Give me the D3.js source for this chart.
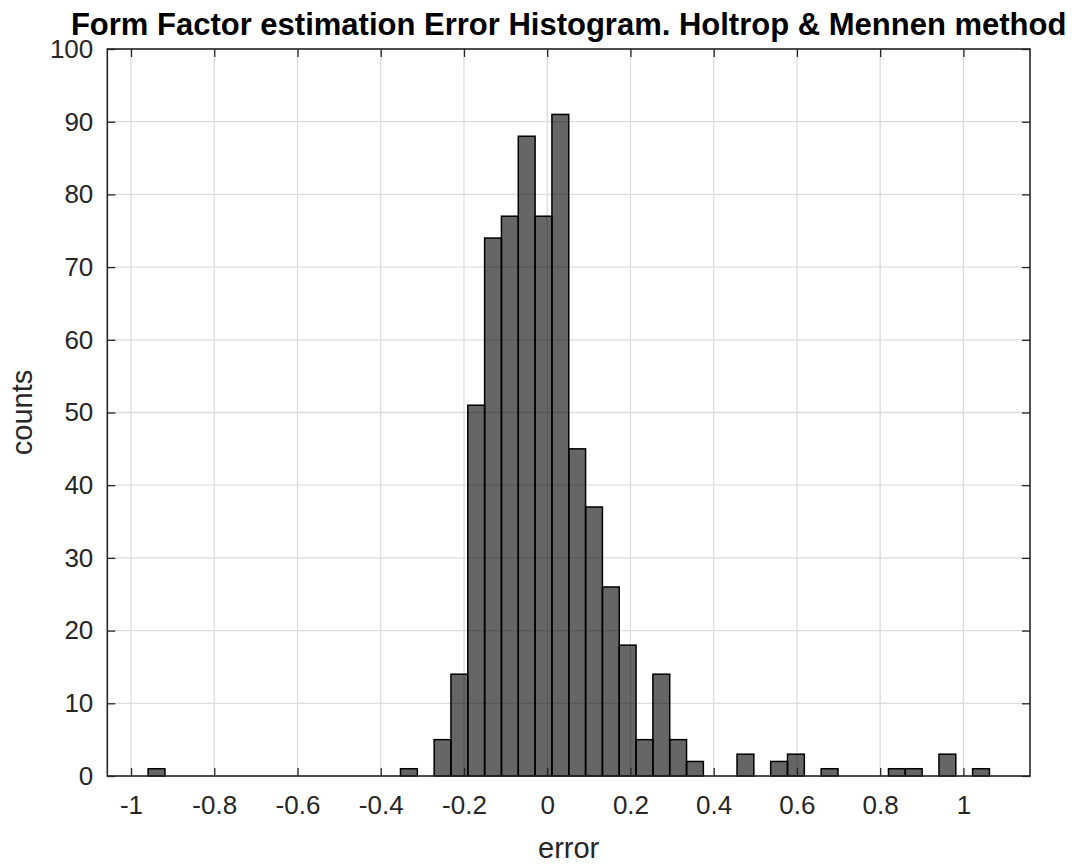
<!DOCTYPE html>
<html>
<head>
<meta charset="utf-8">
<script src="https://cdn.jsdelivr.net/npm/d3@7"></script>
<style>
  html, body { margin: 0; padding: 0; background: #fff; }
  svg { display: block; }
  text { font-family: "Liberation Sans", Arial, Helvetica, sans-serif; }
</style>
</head>
<body>
<script>
// ---- data ----
const binLow = -0.959;     // left edge of first bin
const binHigh = 1.0625;    // right edge of last bin
const counts = [
  1, 0, 0, 0, 0, 0, 0, 0, 0, 0,
  0, 0, 0, 0, 0, 1, 0, 5, 14, 51,
  74, 77, 88, 77, 91, 45, 37, 26, 18, 5,
  14, 5, 2, 0, 0, 3, 0, 2, 3, 0,
  1, 0, 0, 0, 1, 1, 0, 3, 0, 1
];
const xTicks = [-1, -0.8, -0.6, -0.4, -0.2, 0, 0.2, 0.4, 0.6, 0.8, 1];
const xTickLabels = ["-1", "-0.8", "-0.6", "-0.4", "-0.2", "0", "0.2", "0.4", "0.6", "0.8", "1"];
const yTicks = [0, 10, 20, 30, 40, 50, 60, 70, 80, 90, 100];
const xDomain = [-1.057, 1.16];
const yDomain = [0, 100];
const titleText = "Form Factor estimation Error Histogram. Holtrop & Mennen method";
const xLabelText = "error";
const yLabelText = "counts";

// ---- layout ----
const W = 1077, H = 866;
const mLeft = 107.3, mRight = 1030, mTop = 49, mBottom = 776;
const tickLen = 8;
const axisColor = "#262626";

const nb = counts.length;
const bw = (binHigh - binLow) / nb;
const bins = counts.map((c, i) => ({ x0: binLow + i * bw, x1: binLow + (i + 1) * bw, c }));

const x = d3.scaleLinear().domain(xDomain).range([mLeft, mRight]);
const y = d3.scaleLinear().domain(yDomain).range([mBottom, mTop]);

const svg = d3.select("body").append("svg").attr("width", W).attr("height", H);

// grid
const grid = svg.append("g").attr("stroke", "#dcdcdc").attr("stroke-width", 1.3);
grid.selectAll("line.v").data(xTicks).join("line").attr("class", "v")
  .attr("x1", d => x(d)).attr("x2", d => x(d)).attr("y1", mTop).attr("y2", mBottom);
grid.selectAll("line.h").data(yTicks).join("line").attr("class", "h")
  .attr("y1", d => y(d)).attr("y2", d => y(d)).attr("x1", mLeft).attr("x2", mRight);

// bars
svg.append("g").selectAll("rect").data(bins.filter(b => b.c > 0)).join("rect")
  .attr("x", d => x(d.x0))
  .attr("width", d => x(d.x1) - x(d.x0))
  .attr("y", d => y(d.c))
  .attr("height", d => y(0) - y(d.c))
  .attr("fill", "#000").attr("fill-opacity", 0.6)
  .attr("stroke", "#000").attr("stroke-width", 1.5);

// axes (box with inner ticks)
const fmtX = (d) => xTickLabels[xTicks.indexOf(d)];
const axB = d3.axisBottom(x).tickValues(xTicks).tickFormat(fmtX).tickSizeInner(-tickLen).tickSizeOuter(0).tickPadding(20);
const axT = d3.axisTop(x).tickValues(xTicks).tickFormat("").tickSizeInner(-tickLen).tickSizeOuter(0);
const axL = d3.axisLeft(y).tickValues(yTicks).tickFormat(d3.format("d")).tickSizeInner(-tickLen).tickSizeOuter(0).tickPadding(14);
const axR = d3.axisRight(y).tickValues(yTicks).tickFormat("").tickSizeInner(-tickLen).tickSizeOuter(0);

function styleAxis(g) {
  g.select(".domain").remove();
  g.selectAll(".tick line").attr("stroke", axisColor).attr("stroke-width", 1.3);
  g.selectAll(".tick text").attr("fill", axisColor)
    .style("font-family", "'Liberation Sans', Arial, sans-serif").style("font-size", "26px");
}
svg.append("g").attr("transform", `translate(0,${mBottom})`).call(axB).call(styleAxis);
svg.append("g").attr("transform", `translate(0,${mTop})`).call(axT).call(styleAxis);
svg.append("g").attr("transform", `translate(${mLeft},0)`).call(axL).call(styleAxis);
svg.append("g").attr("transform", `translate(${mRight},0)`).call(axR).call(styleAxis);

svg.append("rect").attr("x", mLeft).attr("y", mTop).attr("width", mRight - mLeft).attr("height", mBottom - mTop)
  .attr("fill", "none").attr("stroke", axisColor).attr("stroke-width", 1.6);

// title & labels
svg.append("text").attr("x", (mLeft + mRight) / 2).attr("y", 35).attr("text-anchor", "middle")
  .attr("font-weight", "bold").attr("font-size", 31).attr("fill", "#000").text(titleText);
svg.append("text").attr("x", (mLeft + mRight) / 2).attr("y", 858).attr("text-anchor", "middle")
  .attr("font-size", 29).attr("fill", axisColor).text(xLabelText);
svg.append("text").attr("transform", `translate(32,${(mTop + mBottom) / 2}) rotate(-90)`).attr("text-anchor", "middle")
  .attr("font-size", 29).attr("fill", axisColor).text(yLabelText);
</script>
</body>
</html>
